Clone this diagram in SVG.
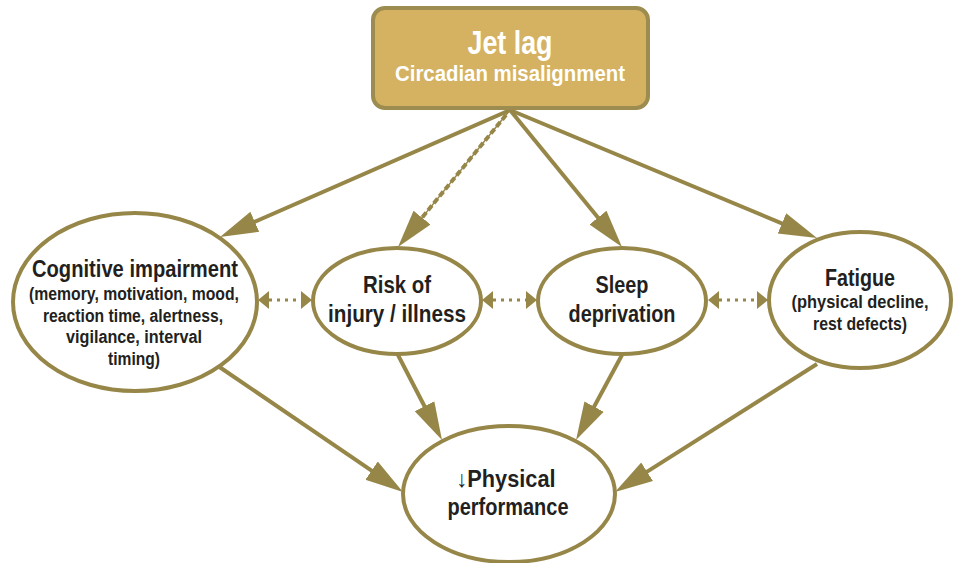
<svg xmlns="http://www.w3.org/2000/svg" width="953" height="563" viewBox="0 0 953 563">
<style>
.node ellipse{fill:#ffffff;stroke:#968749;stroke-width:4}
.box{fill:#D4B262;stroke:#9C8C4F;stroke-width:4}
.t{font-family:"Liberation Sans",Arial,sans-serif;font-weight:bold;text-anchor:middle;fill:#231F20}
.h{font-size:23px}
.s{font-size:18px}
.w{fill:#ffffff}
.conn line{stroke:#968749;stroke-width:4;fill:none}
.conn line.dot{stroke-width:3;stroke-dasharray:3 5}
.conn line.thin{stroke-width:1.5}
.conn line.dash{stroke-dasharray:6 3}
.ah{fill:#968749}
</style>
<defs>
<marker id="arr" markerUnits="userSpaceOnUse" markerWidth="40" markerHeight="24" viewBox="0 0 40 24" refX="20" refY="12" orient="auto">
<path class="ah" d="M0,1 L38,12 L0,23 Z"/>
</marker>
<marker id="sm" markerUnits="userSpaceOnUse" markerWidth="12" markerHeight="20" viewBox="0 0 12 20" refX="0" refY="10" orient="auto-start-reverse">
<path class="ah" d="M0,1 L11,10 L0,19 Z"/>
</marker>
</defs>

<g id="connectors" class="conn">
<line x1="510" y1="110" x2="236.5" y2="229.8" marker-end="url(#arr)"/>
<line class="thin" x1="510" y1="110" x2="409.4" y2="233.1"/>
<line class="dash" x1="506" y1="115" x2="409.4" y2="233.1" marker-end="url(#arr)"/>
<line x1="510" y1="110" x2="610.6" y2="233.1" marker-end="url(#arr)"/>
<line x1="510" y1="110" x2="800.4" y2="231.1" marker-end="url(#arr)"/>
<line x1="218" y1="366" x2="388.1" y2="481.9" marker-end="url(#arr)"/>
<line x1="398" y1="355" x2="433.7" y2="424" marker-end="url(#arr)"/>
<line x1="622" y1="355" x2="584.6" y2="424.2" marker-end="url(#arr)"/>
<line x1="817" y1="364" x2="630.2" y2="482.4" marker-end="url(#arr)"/>
<line class="dot" x1="269" y1="300" x2="301" y2="300" marker-start="url(#sm)" marker-end="url(#sm)"/>
<line class="dot" x1="493" y1="300" x2="526" y2="300" marker-start="url(#sm)" marker-end="url(#sm)"/>
<line class="dot" x1="719" y1="300" x2="757" y2="300" marker-start="url(#sm)" marker-end="url(#sm)"/>
</g>

<g id="jetlag">
<rect class="box" x="373" y="8" width="275" height="100" rx="12"/>
<text class="t w" x="510" y="54" font-size="33" textLength="85" lengthAdjust="spacingAndGlyphs">Jet lag</text>
<text class="t w" x="510" y="81" font-size="22.5" textLength="230" lengthAdjust="spacingAndGlyphs">Circadian misalignment</text>
</g>

<g id="cognitive" class="node">
<ellipse cx="135" cy="302" rx="122" ry="89"/>
<text class="t h" x="135" y="277" textLength="206" lengthAdjust="spacingAndGlyphs">Cognitive impairment</text>
<text class="t s" x="134" y="300" textLength="210" lengthAdjust="spacingAndGlyphs">(memory, motivation, mood,</text>
<text class="t s" x="133" y="321.5" textLength="180" lengthAdjust="spacingAndGlyphs">reaction time, alertness,</text>
<text class="t s" x="134" y="343" textLength="136" lengthAdjust="spacingAndGlyphs">vigilance, interval</text>
<text class="t s" x="134" y="365" textLength="52" lengthAdjust="spacingAndGlyphs">timing)</text>
</g>

<g id="risk" class="node">
<ellipse cx="397" cy="301" rx="84" ry="53"/>
<text class="t h" x="397" y="293" textLength="68" lengthAdjust="spacingAndGlyphs">Risk of</text>
<text class="t h" x="397" y="322" textLength="138" lengthAdjust="spacingAndGlyphs">injury / illness</text>
</g>

<g id="sleep" class="node">
<ellipse cx="622" cy="301" rx="84" ry="53"/>
<text class="t h" x="622" y="293" textLength="53" lengthAdjust="spacingAndGlyphs">Sleep</text>
<text class="t h" x="622" y="322" textLength="107" lengthAdjust="spacingAndGlyphs">deprivation</text>
</g>

<g id="fatigue" class="node">
<ellipse cx="860" cy="300" rx="91" ry="68"/>
<text class="t h" x="860" y="286" textLength="70" lengthAdjust="spacingAndGlyphs">Fatigue</text>
<text class="t s" x="860" y="308" textLength="137" lengthAdjust="spacingAndGlyphs">(physical decline,</text>
<text class="t s" x="860" y="330" textLength="94" lengthAdjust="spacingAndGlyphs">rest defects)</text>
</g>

<g id="performance" class="node">
<ellipse cx="509" cy="494" rx="106" ry="68"/>
<text class="t h" x="506" y="487" textLength="99" lengthAdjust="spacingAndGlyphs">↓Physical</text>
<text class="t h" x="508" y="515" textLength="121" lengthAdjust="spacingAndGlyphs">performance</text>
</g>
</svg>
